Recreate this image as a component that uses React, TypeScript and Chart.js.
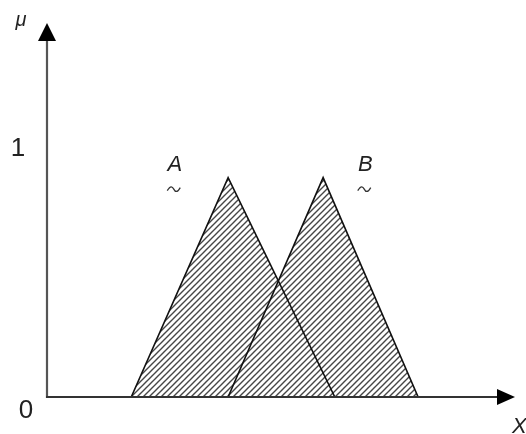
import React, { useEffect, useRef } from "react";
import { Chart, registerables } from "chart.js";

Chart.register(...registerables);

// Membership functions of the two fuzzy sets (x, μ) — triangles
const setAX = [1.8, 3.87, 6.15];
const setAMu = [0, 0.88, 0];
const setBX = [3.87, 5.9, 7.93];
const setBMu = [0, 0.88, 0];

// Axis tick labels on the μ axis
const muTicks = [0, 1];
const muTickLabels = ["0", "1"];

// Set names and where they sit (data units)
const setNames = ["A", "B"];
const setNameX = [2.73, 6.8];
const setNameMu = [0.93, 0.93];

const X_MAX = 10;
const MU_MAX = 1.5;

function makeHatch(): CanvasPattern | string {
  const size = 6;
  const c = document.createElement("canvas");
  c.width = size;
  c.height = size;
  const g = c.getContext("2d");
  if (!g) return "rgba(80,80,80,0.5)";
  // opaque tile so overlapping fills keep the same density
  g.fillStyle = "#fff";
  g.fillRect(0, 0, size, size);
  g.strokeStyle = "rgba(50,50,50,0.9)";
  g.lineWidth = 1.4;
  g.lineCap = "square";
  for (const o of [-size, 0, size]) {
    g.beginPath();
    g.moveTo(o, size);
    g.lineTo(o + size, 0);
    g.stroke();
  }
  return g.createPattern(c, "repeat") || "rgba(80,80,80,0.5)";
}

function drawTilde(ctx: CanvasRenderingContext2D, cx: number, cy: number) {
  const w = 13;
  const a = 2.6;
  ctx.beginPath();
  ctx.moveTo(cx - w / 2, cy + a * 0.6);
  ctx.bezierCurveTo(cx - w / 4, cy - a * 1.6, cx - w / 10, cy - a, cx, cy);
  ctx.bezierCurveTo(cx + w / 10, cy + a, cx + w / 4, cy + a * 1.6, cx + w / 2, cy - a * 0.6);
  ctx.stroke();
}

const axesPlugin = {
  id: "fuzzyAxes",
  afterDatasetsDraw(chart: any) {
    const { ctx, scales } = chart;
    const xs = scales.x;
    const ys = scales.y;
    const x0 = xs.getPixelForValue(0);
    const y0 = ys.getPixelForValue(0);
    const xEnd = xs.getPixelForValue(X_MAX);
    const yTop = ys.getPixelForValue(MU_MAX);

    ctx.save();
    // vertical μ axis
    ctx.strokeStyle = "#555";
    ctx.lineWidth = 2.2;
    ctx.beginPath();
    ctx.moveTo(x0, y0 + 1);
    ctx.lineTo(x0, yTop + 10);
    ctx.stroke();
    // horizontal X axis
    ctx.strokeStyle = "#333";
    ctx.beginPath();
    ctx.moveTo(x0 - 1, y0);
    ctx.lineTo(xEnd - 10, y0);
    ctx.stroke();

    // arrow heads
    ctx.fillStyle = "#000";
    ctx.beginPath();
    ctx.moveTo(x0, yTop);
    ctx.lineTo(x0 - 9, yTop + 18);
    ctx.lineTo(x0 + 9, yTop + 18);
    ctx.closePath();
    ctx.fill();
    ctx.beginPath();
    ctx.moveTo(xEnd, y0);
    ctx.lineTo(xEnd - 18, y0 - 8);
    ctx.lineTo(xEnd - 18, y0 + 8);
    ctx.closePath();
    ctx.fill();

    // tick labels
    ctx.fillStyle = "#222";
    ctx.font = "26px 'Liberation Sans', Arial, sans-serif";
    ctx.textAlign = "center";
    ctx.textBaseline = "middle";
    muTicks.forEach((v, i) => {
      const py = ys.getPixelForValue(v) + (v === 0 ? 14 : 1);
      const px = v === 0 ? 26 : 18;
      ctx.fillText(muTickLabels[i], px, py);
    });

    // axis titles
    ctx.font = "italic 20px 'Liberation Sans', Arial, sans-serif";
    ctx.fillText("μ", 21, 20);
    ctx.font = "italic 22px 'Liberation Sans', Arial, sans-serif";
    ctx.textAlign = "left";
    ctx.fillText("X", xEnd - 3, y0 + 30);

    // set names with tilde underneath
    ctx.textAlign = "center";
    ctx.strokeStyle = "#333";
    ctx.lineWidth = 1.3;
    setNames.forEach((name, i) => {
      const px = xs.getPixelForValue(setNameX[i]);
      const py = ys.getPixelForValue(setNameMu[i]);
      ctx.font = "italic 22px 'Liberation Sans', Arial, sans-serif";
      ctx.fillText(name, px, py);
      drawTilde(ctx, px - 1, py + 24);
    });
    ctx.restore();
  },
};

export default function App() {
  const ref = useRef<HTMLCanvasElement | null>(null);

  useEffect(() => {
    if (!ref.current) return;
    const hatch = makeHatch();
    const toPts = (xs: number[], ys: number[]) => xs.map((x, i) => ({ x, y: ys[i] }));
    const chart = new Chart(ref.current, {
      type: "line",
      data: {
        datasets: [
          {
            label: "A",
            data: toPts(setAX, setAMu),
            borderColor: "#111",
            borderWidth: 1.6,
            backgroundColor: hatch as any,
            fill: "origin",
            pointRadius: 0,
            tension: 0,
          },
          {
            label: "B",
            data: toPts(setBX, setBMu),
            borderColor: "#111",
            borderWidth: 1.6,
            backgroundColor: hatch as any,
            fill: "origin",
            pointRadius: 0,
            tension: 0,
          },
        ],
      },
      options: {
        animation: false,
        responsive: false,
        devicePixelRatio: 1,
        layout: { padding: { left: 47, right: 11, top: 23, bottom: 37 } },
        plugins: {
          legend: { display: false },
          tooltip: { enabled: false },
          filler: { drawTime: "beforeDatasetsDraw" } as any,
        },
        scales: {
          x: { type: "linear", min: 0, max: X_MAX, display: false },
          y: { type: "linear", min: 0, max: MU_MAX, display: false },
        },
      },
      plugins: [axesPlugin],
    });
    return () => chart.destroy();
  }, []);

  return (
    <div
      style={{
        position: "fixed",
        left: 0,
        top: 0,
        width: 526,
        height: 434,
        background: "#fff",
      }}
    >
      <canvas ref={ref} width={526} height={434} />
    </div>
  );
}
